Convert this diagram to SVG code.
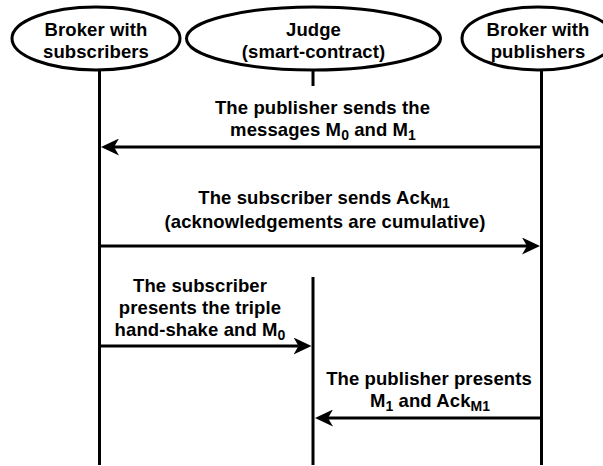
<svg xmlns="http://www.w3.org/2000/svg" width="603" height="466" viewBox="0 0 603 466">
<style>
  .shape { fill: #ffffff; stroke: #000000; stroke-width: 3; }
  .life { stroke: #000000; stroke-width: 3; fill: none; }
  .msg { stroke: #000000; stroke-width: 3; fill: none; marker-end: url(#arr); }
  text { font-family: "Liberation Sans", Arial, sans-serif; font-weight: bold; font-size: 18.5px; letter-spacing: 0.1px; fill: #000000; text-anchor: middle; }
  .sub { font-size: 14px; letter-spacing: 0px; }
</style>
<defs>
  <marker id="arr" viewBox="0 0 18 17" refX="5" refY="8.5" markerWidth="18" markerHeight="17" orient="auto" markerUnits="userSpaceOnUse">
    <path d="M0,0 L18,8.5 L0,17 L5,8.5 Z" fill="#000000"/>
  </marker>
</defs>
<rect x="0" y="0" width="603" height="466" fill="#ffffff"/>

<g id="node-broker-subscribers">
  <line class="life" x1="99.5" y1="70" x2="99.5" y2="465"/>
  <ellipse class="shape" cx="96" cy="38.5" rx="84" ry="31.5"/>
  <text x="96" y="36">Broker with</text>
  <text x="96" y="57.5">subscribers</text>
</g>

<g id="node-judge">
  <line class="life" x1="313" y1="70" x2="313" y2="86"/>
  <line class="life" x1="313" y1="277" x2="313" y2="465"/>
  <ellipse class="shape" cx="313.5" cy="38.5" rx="127" ry="31.5"/>
  <text x="313.5" y="36">Judge</text>
  <text x="313.5" y="57.5">(smart-contract)</text>
</g>

<g id="node-broker-publishers">
  <line class="life" x1="541.5" y1="70" x2="541.5" y2="465"/>
  <ellipse class="shape" cx="538" cy="38.5" rx="76" ry="31.5"/>
  <text x="538" y="36">Broker with</text>
  <text x="538" y="57.5">publishers</text>
</g>

<g id="connectors">
  <line class="msg" x1="541.5" y1="147" x2="114" y2="147"/>
  <line class="msg" x1="99.5" y1="246" x2="527" y2="246"/>
  <line class="msg" x1="99.5" y1="346" x2="298.5" y2="346"/>
  <line class="msg" x1="541.5" y1="418" x2="328" y2="418"/>
</g>

<g id="labels">
  <text x="322.5" y="114">The publisher sends the</text>
  <text x="323" y="136">messages M<tspan class="sub" dy="4">0</tspan><tspan dy="-4"> and M</tspan><tspan class="sub" dy="4">1</tspan></text>

  <text x="324" y="203.5">The subscriber sends Ack<tspan class="sub" dy="4">M1</tspan></text>
  <text x="325" y="227.5">(acknowledgements are cumulative)</text>

  <text x="200" y="291.5">The subscriber</text>
  <text x="200" y="313.5">presents the triple</text>
  <text x="200" y="335.5">hand-shake and M<tspan class="sub" dy="4">0</tspan></text>

  <text x="429" y="385">The publisher presents</text>
  <text x="430" y="407">M<tspan class="sub" dy="4">1</tspan><tspan dy="-4"> and Ack</tspan><tspan class="sub" dy="4">M1</tspan></text>
</g>
</svg>
